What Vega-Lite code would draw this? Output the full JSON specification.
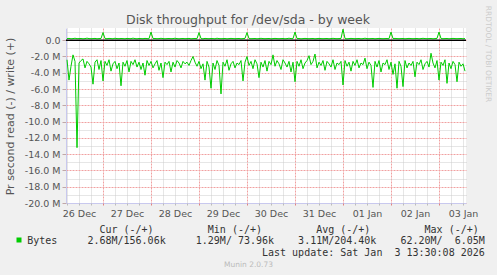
{
  "$schema": "https://vega.github.io/schema/vega-lite/v6.json",
  "width": 400,
  "height": 175,
  "autosize": {"type": "none"},
  "padding": {"left": 66, "top": 28, "right": 31, "bottom": 72},
  "background": "#f0f0f0",
  "config": {"view": {"fill": "#ffffff", "stroke": null}, "font": "DejaVu Sans"},
  "title": {"text": "Disk throughput for /dev/sda - by week", "font": "DejaVu Sans", "fontSize": 12.5, "fontWeight": "normal", "color": "#555555", "anchor": "middle", "dx": -18, "offset": -31, "baseline": "alphabetic"},
  "data": {"values": [
    {"h":6,"read":-2.4,"write":0.2},{"h":7,"read":-4.9,"write":0.22},{"h":8,"read":-3.2,"write":0.18},{"h":9,"read":-1.8,"write":0.2},{"h":10,"read":-2.6,"write":0.24},
    {"h":11,"read":-13.2,"write":0.19},{"h":12,"read":-2.8,"write":0.2},{"h":13,"read":-2.5,"write":0.21},{"h":14,"read":-2.3,"write":0.18},{"h":15,"read":-3.4,"write":0.2},
    {"h":16,"read":-2.6,"write":0.25},{"h":17,"read":-2.9,"write":0.2},{"h":18,"read":-3.3,"write":0.19},{"h":19,"read":-5.4,"write":0.2},{"h":20,"read":-2.7,"write":0.22},
    {"h":21,"read":-2.4,"write":0.18},{"h":22,"read":-3.6,"write":0.2},{"h":23,"read":-2.5,"write":0.21},{"h":24,"read":-5.0,"write":0.94},{"h":25,"read":-2.6,"write":0.2},
    {"h":26,"read":-3.1,"write":0.19},{"h":27,"read":-2.4,"write":0.22},{"h":28,"read":-3.8,"write":0.2},{"h":29,"read":-2.9,"write":0.18},{"h":30,"read":-2.6,"write":0.24},
    {"h":31,"read":-3.5,"write":0.2},{"h":32,"read":-2.8,"write":0.19},{"h":33,"read":-5.6,"write":0.21},{"h":34,"read":-2.7,"write":0.2},{"h":35,"read":-3.2,"write":0.18},
    {"h":36,"read":-2.5,"write":0.22},{"h":37,"read":-3.9,"write":0.2},{"h":38,"read":-2.6,"write":0.19},{"h":39,"read":-3.0,"write":0.25},{"h":40,"read":-2.4,"write":0.2},
    {"h":41,"read":-3.3,"write":0.18},{"h":42,"read":-2.7,"write":0.21},{"h":43,"read":-3.6,"write":0.2},{"h":44,"read":-2.8,"write":0.19},{"h":45,"read":-4.3,"write":0.22},
    {"h":46,"read":-2.5,"write":0.2},{"h":47,"read":-3.1,"write":0.18},{"h":48,"read":-2.6,"write":1.0},{"h":49,"read":-3.4,"write":0.2},{"h":50,"read":-2.9,"write":0.21},
    {"h":51,"read":-2.5,"write":0.19},{"h":52,"read":-3.7,"write":0.2},{"h":53,"read":-2.8,"write":0.23},{"h":54,"read":-4.6,"write":0.2},{"h":55,"read":-2.7,"write":0.18},
    {"h":56,"read":-3.0,"write":0.2},{"h":57,"read":-2.6,"write":0.21},{"h":58,"read":-3.9,"write":0.19},{"h":59,"read":-2.7,"write":0.2},{"h":60,"read":-3.3,"write":0.24},
    {"h":61,"read":-2.5,"write":0.2},{"h":62,"read":-2.8,"write":0.18},{"h":63,"read":-3.4,"write":0.2},{"h":64,"read":-2.6,"write":0.21},{"h":65,"read":-2.9,"write":0.19},
    {"h":66,"read":-2.7,"write":0.2},{"h":67,"read":-3.1,"write":0.22},{"h":68,"read":-2.5,"write":0.18},{"h":69,"read":-2.0,"write":0.2},{"h":70,"read":-2.7,"write":0.21},
    {"h":71,"read":-3.2,"write":0.19},{"h":72,"read":-2.6,"write":0.94},{"h":73,"read":-3.5,"write":0.2},{"h":74,"read":-2.9,"write":0.18},{"h":75,"read":-4.9,"write":0.22},
    {"h":76,"read":-2.6,"write":0.2},{"h":77,"read":-3.3,"write":0.19},{"h":78,"read":-5.9,"write":0.21},{"h":79,"read":-2.8,"write":0.2},{"h":80,"read":-3.6,"write":0.18},
    {"h":81,"read":-2.5,"write":0.24},{"h":82,"read":-3.1,"write":0.2},{"h":83,"read":-6.6,"write":0.19},{"h":84,"read":-2.7,"write":0.2},{"h":85,"read":-3.2,"write":0.21},
    {"h":86,"read":-2.4,"write":0.18},{"h":87,"read":-3.7,"write":0.2},{"h":88,"read":-2.9,"write":0.22},{"h":89,"read":-2.6,"write":0.2},{"h":90,"read":-3.4,"write":0.19},
    {"h":91,"read":-2.8,"write":0.2},{"h":92,"read":-3.0,"write":0.21},{"h":93,"read":-2.5,"write":0.18},{"h":94,"read":-5.0,"write":0.2},{"h":95,"read":-2.7,"write":0.22},
    {"h":96,"read":-2.0,"write":0.94},{"h":97,"read":-3.1,"write":0.2},{"h":98,"read":-2.6,"write":0.19},{"h":99,"read":-3.5,"write":0.2},{"h":100,"read":-2.4,"write":0.21},
    {"h":101,"read":-2.9,"write":0.18},{"h":102,"read":-4.6,"write":0.2},{"h":103,"read":-2.7,"write":0.23},{"h":104,"read":-3.3,"write":0.2},{"h":105,"read":-2.5,"write":0.19},
    {"h":106,"read":-3.8,"write":0.2},{"h":107,"read":-2.6,"write":0.21},{"h":108,"read":-3.0,"write":0.18},{"h":109,"read":-1.8,"write":0.2},{"h":110,"read":-3.2,"write":0.22},
    {"h":111,"read":-2.5,"write":0.2},{"h":112,"read":-2.9,"write":0.19},{"h":113,"read":-3.6,"write":0.2},{"h":114,"read":-2.4,"write":0.21},{"h":115,"read":-2.8,"write":0.18},
    {"h":116,"read":-3.3,"write":0.2},{"h":117,"read":-2.6,"write":0.24},{"h":118,"read":-3.9,"write":0.2},{"h":119,"read":-2.7,"write":0.19},{"h":120,"read":-5.1,"write":1.0},
    {"h":121,"read":-2.6,"write":0.2},{"h":122,"read":-3.2,"write":0.21},{"h":123,"read":-2.4,"write":0.18},{"h":124,"read":-3.5,"write":0.2},{"h":125,"read":-2.8,"write":0.22},
    {"h":126,"read":-2.5,"write":0.2},{"h":127,"read":-1.9,"write":0.19},{"h":128,"read":-3.0,"write":0.2},{"h":129,"read":-2.6,"write":0.21},{"h":130,"read":-1.7,"write":0.18},
    {"h":131,"read":-3.4,"write":0.2},{"h":132,"read":-2.7,"write":0.22},{"h":133,"read":-3.1,"write":0.2},{"h":134,"read":-2.5,"write":0.19},{"h":135,"read":-3.7,"write":0.2},
    {"h":136,"read":-2.6,"write":0.21},{"h":137,"read":-2.9,"write":0.18},{"h":138,"read":-3.3,"write":0.2},{"h":139,"read":-2.4,"write":0.23},{"h":140,"read":-3.6,"write":0.2},
    {"h":141,"read":-2.8,"write":0.19},{"h":142,"read":-3.0,"write":0.2},{"h":143,"read":-2.6,"write":0.21},{"h":144,"read":-5.5,"write":1.35},{"h":145,"read":-2.5,"write":0.2},
    {"h":146,"read":-3.2,"write":0.18},{"h":147,"read":-2.7,"write":0.2},{"h":148,"read":-3.8,"write":0.22},{"h":149,"read":-2.6,"write":0.2},{"h":150,"read":-3.1,"write":0.19},
    {"h":151,"read":-2.4,"write":0.2},{"h":152,"read":-3.4,"write":0.21},{"h":153,"read":-2.8,"write":0.18},{"h":154,"read":-3.0,"write":0.2},{"h":155,"read":-2.2,"write":0.24},
    {"h":156,"read":-3.5,"write":0.2},{"h":157,"read":-2.7,"write":0.19},{"h":158,"read":-3.1,"write":0.2},{"h":159,"read":-5.8,"write":0.21},{"h":160,"read":-2.6,"write":0.18},
    {"h":161,"read":-3.3,"write":0.2},{"h":162,"read":-2.5,"write":0.22},{"h":163,"read":-3.9,"write":0.2},{"h":164,"read":-2.8,"write":0.19},{"h":165,"read":-3.0,"write":0.2},
    {"h":166,"read":-2.4,"write":0.21},{"h":167,"read":-3.6,"write":0.18},{"h":168,"read":-2.7,"write":1.0},{"h":169,"read":-4.2,"write":0.2},{"h":170,"read":-2.9,"write":0.22},
    {"h":171,"read":-5.9,"write":0.2},{"h":172,"read":-2.6,"write":0.19},{"h":173,"read":-3.2,"write":0.2},{"h":174,"read":-5.7,"write":0.21},{"h":175,"read":-2.5,"write":0.18},
    {"h":176,"read":-3.4,"write":0.2},{"h":177,"read":-2.8,"write":0.22},{"h":178,"read":-3.1,"write":0.2},{"h":179,"read":-2.6,"write":0.19},{"h":180,"read":-4.5,"write":0.2},
    {"h":181,"read":-2.7,"write":0.21},{"h":182,"read":-3.0,"write":0.18},{"h":183,"read":-2.4,"write":0.2},{"h":184,"read":-3.6,"write":0.23},{"h":185,"read":-2.9,"write":0.2},
    {"h":186,"read":-2.6,"write":0.19},{"h":187,"read":-3.3,"write":0.2},{"h":188,"read":-1.6,"write":0.21},{"h":189,"read":-2.8,"write":0.18},{"h":190,"read":-3.4,"write":0.2},
    {"h":191,"read":-2.5,"write":0.22},{"h":192,"read":-4.9,"write":1.0},{"h":193,"read":-2.7,"write":0.2},{"h":194,"read":-3.1,"write":0.19},{"h":195,"read":-2.4,"write":0.2},
    {"h":196,"read":-5.3,"write":0.21},{"h":197,"read":-2.8,"write":0.18},{"h":198,"read":-3.5,"write":0.2},{"h":199,"read":-2.6,"write":0.22},{"h":200,"read":-3.0,"write":0.2},
    {"h":201,"read":-5.1,"write":0.19},{"h":202,"read":-2.7,"write":0.2},{"h":203,"read":-3.2,"write":0.21},{"h":204,"read":-2.9,"write":0.18},{"h":205,"read":-3.8,"write":0.2}
  ]},
  "resolve": {"axis": {"x": "independent", "y": "independent"}},
  "layer": [
    {
      "mark": {"type": "line", "color": "#00cc00", "strokeWidth": 1},
      "encoding": {
        "x": {"field": "h", "type": "quantitative", "scale": {"domain": [5.5, 205.5], "nice": false, "zero": false},
          "axis": {"orient": "bottom", "values": [12, 36, 60, 84, 108, 132, 156, 180, 204],
            "labelExpr": "['26 Dec','27 Dec','28 Dec','29 Dec','30 Dec','31 Dec','01 Jan','02 Jan','03 Jan'][round((datum.value-12)/24)]",
            "grid": false, "ticks": false, "domain": true, "domainColor": "#c8c8ee",
            "labelFont": "DejaVu Sans", "labelFontSize": 9.5, "labelColor": "#555555", "labelPadding": 5, "labelFlush": false, "labelOverlap": false,
            "title": ["\u200b\u00a0\u00a0\u00a0\u00a0\u00a0\u00a0\u00a0\u00a0\u00a0\u00a0\u00a0\u00a0Cur\u00a0(-/+)\u00a0\u00a0\u00a0\u00a0\u00a0\u00a0\u00a0\u00a0\u00a0Min\u00a0(-/+)\u00a0\u00a0\u00a0\u00a0\u00a0\u00a0\u00a0\u00a0\u00a0Avg\u00a0(-/+)\u00a0\u00a0\u00a0\u00a0\u00a0\u00a0\u00a0\u00a0\u00a0Max\u00a0(-/+)",
                      "Bytes\u00a0\u00a0\u00a0\u00a0\u00a02.68M/156.06k\u00a0\u00a0\u00a0\u00a0\u00a01.29M/\u00a073.96k\u00a0\u00a0\u00a0\u00a03.11M/204.40k\u00a0\u00a0\u00a0\u00a062.20M/\u00a0\u00a06.05M",
                      "\u200b\u00a0\u00a0\u00a0\u00a0\u00a0\u00a0\u00a0\u00a0\u00a0\u00a0\u00a0\u00a0\u00a0\u00a0\u00a0\u00a0\u00a0\u00a0\u00a0\u00a0\u00a0\u00a0\u00a0\u00a0\u00a0\u00a0\u00a0\u00a0\u00a0\u00a0\u00a0\u00a0\u00a0\u00a0\u00a0\u00a0\u00a0\u00a0\u00a0Last\u00a0update:\u00a0Sat\u00a0Jan\u00a0\u00a03\u00a013:30:08\u00a02026"],
            "titleFont": "DejaVu Sans Mono", "titleFontSize": 10, "titleFontWeight": "normal", "titleColor": "#333333",
            "titleAnchor": "start", "titleAlign": "left", "titleBaseline": "alphabetic", "titleX": -39.3, "titleY": 29, "titleLineHeight": 11.7}},
        "y": {"field": "read", "type": "quantitative", "scale": {"domain": [-20, 1.5], "nice": false, "zero": false},
          "axis": {"orient": "left", "values": [-20, -18, -16, -14, -12, -10, -8, -6, -4, -2, 0],
            "labelExpr": "datum.value == 0 ? '0.0\u00a0\u00a0' : (datum.value < 0 ? '-' : '') + format(abs(datum.value), '.1f') + ' M'",
            "grid": true, "gridColor": "#f0a0a0", "gridDash": [2, 1], "ticks": true, "tickSize": 4, "tickColor": "#c0a8a8",
            "domain": true, "domainColor": "#c8c8ee", "labelFont": "DejaVu Sans", "labelFontSize": 9.5, "labelColor": "#555555", "labelPadding": 2,
            "title": "Pr second read (-) / write (+)", "titleFont": "DejaVu Sans", "titleFontSize": 11, "titleFontWeight": "normal", "titleColor": "#555555",
            "titleAngle": -90, "titleX": -56, "titleY": 88, "titleAlign": "center", "titleBaseline": "middle"}},
        "color": {"datum": "Bytes", "type": "nominal", "scale": {"range": ["#00cc00"]},
          "legend": {"orient": "none", "legendX": -52, "legendY": 207, "title": null, "padding": 0,
            "symbolType": "square", "symbolSize": 25, "symbolFillColor": "#00cc00", "symbolStrokeColor": "#00cc00", "symbolStrokeWidth": 0,
            "labelExpr": "''", "labelFontSize": 10}}
      }
    },
    {
      "mark": {"type": "line", "color": "#00cc00", "strokeWidth": 1},
      "encoding": {
        "x": {"field": "h", "type": "quantitative", "scale": {"domain": [5.5, 205.5], "nice": false, "zero": false},
          "axis": {"orient": "bottom", "values": [6, 12, 18, 30, 36, 42, 54, 60, 66, 78, 84, 90, 102, 108, 114, 126, 132, 138, 150, 156, 162, 174, 180, 186, 198, 204],
            "labels": false, "grid": true, "gridColor": "#cccccc", "gridDash": [1, 1], "ticks": true, "tickSize": 2, "tickColor": "#bbbbbb", "domain": false,
            "title": "Munin 2.0.73", "titleFont": "DejaVu Sans", "titleFontSize": 7.5, "titleFontWeight": "normal", "titleColor": "#bbbbbb",
            "titleX": 182, "titleY": 61, "titleAlign": "center", "titleBaseline": "middle"}},
        "y": {"field": "write", "type": "quantitative", "scale": {"domain": [-20, 1.5], "nice": false, "zero": false},
          "axis": {"orient": "right", "values": [-19, -17, -15, -13, -11, -9, -7, -5, -3, -1, 1],
            "labels": false, "ticks": false, "domain": false, "grid": true, "gridColor": "#cccccc", "gridDash": [1, 1],
            "title": "RRDTOOL / TOBI OETIKER", "titleFont": "DejaVu Sans", "titleFontSize": 7.5, "titleFontWeight": "normal", "titleColor": "#cccccc",
            "titleAngle": 90, "titleX": 21, "titleY": 25.5, "titleAlign": "center", "titleBaseline": "middle"}}
      }
    },
    {
      "mark": {"type": "point", "opacity": 0},
      "encoding": {
        "x": {"field": "h", "type": "quantitative", "scale": {"domain": [5.5, 205.5], "nice": false, "zero": false},
          "axis": {"orient": "bottom", "values": [24, 48, 72, 96, 120, 144, 168, 192], "labels": false, "grid": true, "gridColor": "#f0a0a0", "gridDash": [2, 1],
            "ticks": true, "tickSize": 2, "tickColor": "#e08080", "domain": false, "title": null}},
        "y": {"field": "read", "type": "quantitative", "axis": null}
      }
    },
    {
      "data": {"values": [{"zero": 0}]},
      "mark": {"type": "rule", "color": "#000000", "strokeWidth": 1.6},
      "encoding": {
        "y": {"field": "zero", "type": "quantitative", "axis": null}
      }
    }
  ]
}
